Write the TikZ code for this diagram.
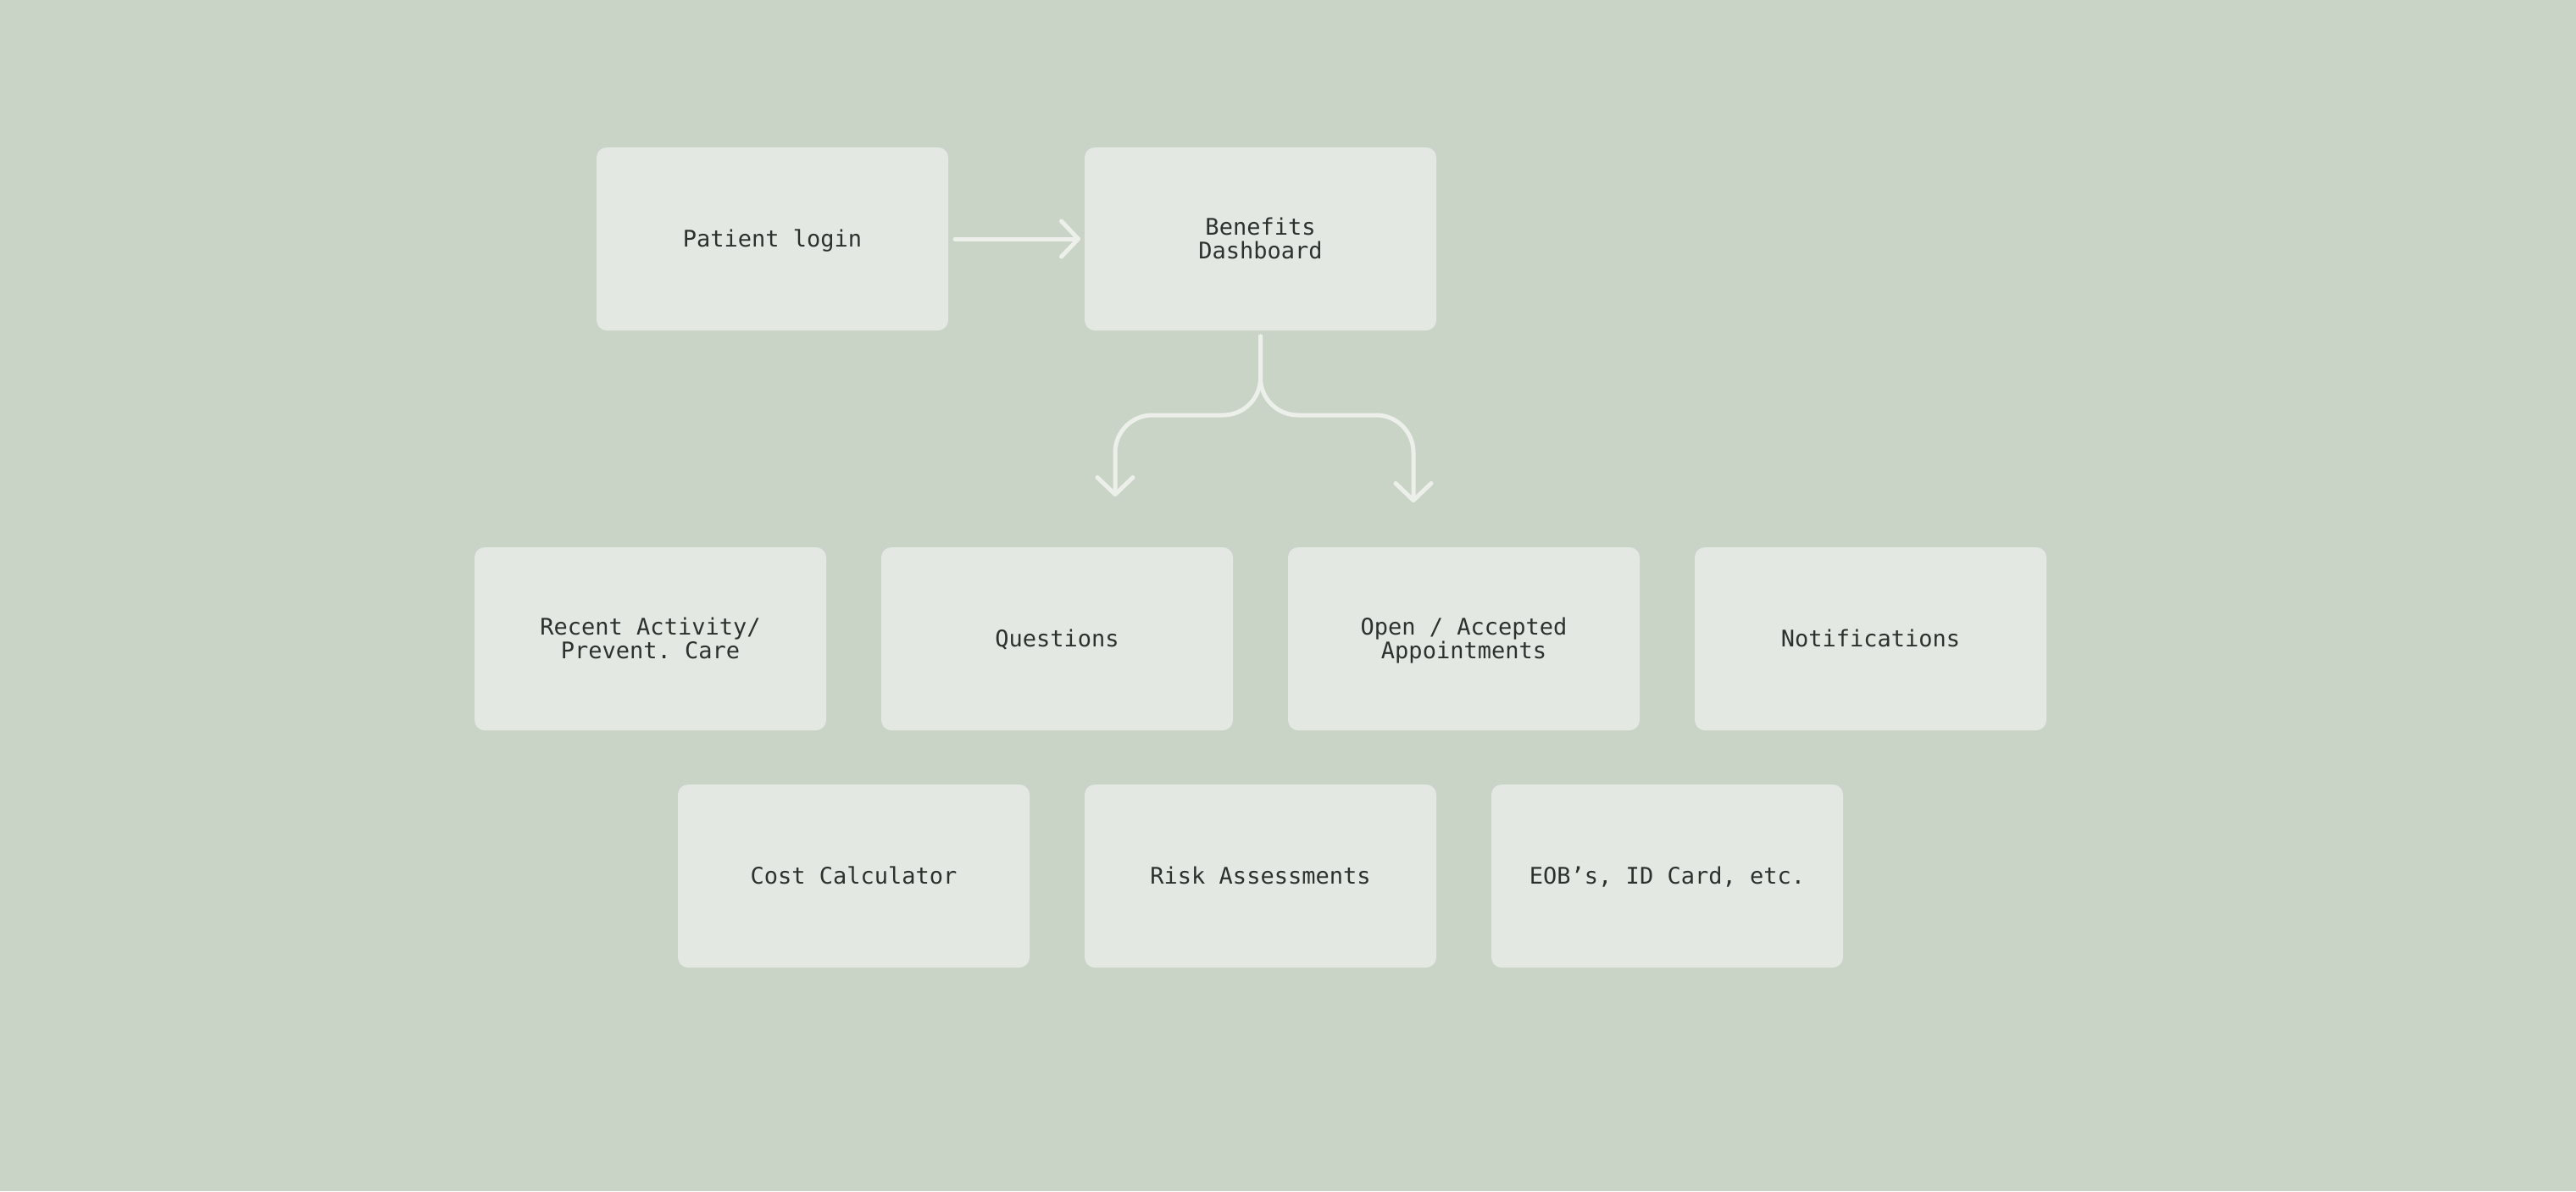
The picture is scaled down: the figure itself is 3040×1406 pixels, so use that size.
\documentclass[tikz,border=0pt]{standalone}
\usepackage{fontspec}
\setmonofont{DejaVu Sans Mono}
\usetikzlibrary{arrows.meta}
\definecolor{bgc}{HTML}{C9D4C7}
\definecolor{boxc}{HTML}{E4E8E2}
\definecolor{linec}{HTML}{EDF0EA}
\definecolor{txtc}{HTML}{2B322D}
\newcommand{\capln}[1]{\raisebox{0pt}[19.5pt][0pt]{#1}}
\tikzset{
  card/.style={rectangle, rounded corners=12pt, fill=boxc, draw=none,
    minimum width=415pt, minimum height=216pt, inner sep=0pt, outer sep=0pt,
    align=center, text=txtc, font=\ttfamily\fontsize{27}{28}\selectfont},
  conn/.style={draw=linec, line width=5pt, line cap=round, line join=round,
    -{Straight Barb[length=20pt, width=42pt, round]}},
}
\begin{document}
\begin{tikzpicture}[x=1pt, y=-1pt]
\fill[bgc] (0,0) rectangle (3040,1406);
\useasboundingbox (0,0) rectangle (3040,1406);
% row 1
\node[card] (pl) at (911.5,282) {\capln{Patient login}};
\node[card] (bd) at (1487.5,282) {\capln{Benefits}\\\capln{Dashboard}};
% row 2
\node[card] (ra) at (767.5,754) {\capln{Recent Activity/}\\\capln{Prevent. Care}};
\node[card] (qu) at (1247.5,754) {\capln{Questions}};
\node[card] (oa) at (1727.5,754) {\capln{Open / Accepted}\\\capln{Appointments}};
\node[card] (no) at (2207.5,754) {\capln{Notifications}};
% row 3
\node[card] (cc) at (1007.5,1034) {\capln{Cost Calculator}};
\node[card] (rk) at (1487.5,1034) {\capln{Risk Assessments}};
\node[card] (eo) at (1967.5,1034) {\capln{EOB’s, ID Card, etc.}};
% free ends of the branch arrows
\coordinate (lend) at (1316,586);
\coordinate (rend) at (1668,593);
\coordinate (split) at (1487.5,490);
% connectors
\draw[conn] ([xshift=8pt]pl.east) -- ([xshift=-5pt]bd.west);
\draw[conn, rounded corners=44pt] ([yshift=-7pt]bd.south) -- (split) -- (lend |- split) -- (lend);
\draw[conn, rounded corners=44pt] ([yshift=-7pt]bd.south) -- (split) -- (rend |- split) -- (rend);
\end{tikzpicture}
\end{document}
